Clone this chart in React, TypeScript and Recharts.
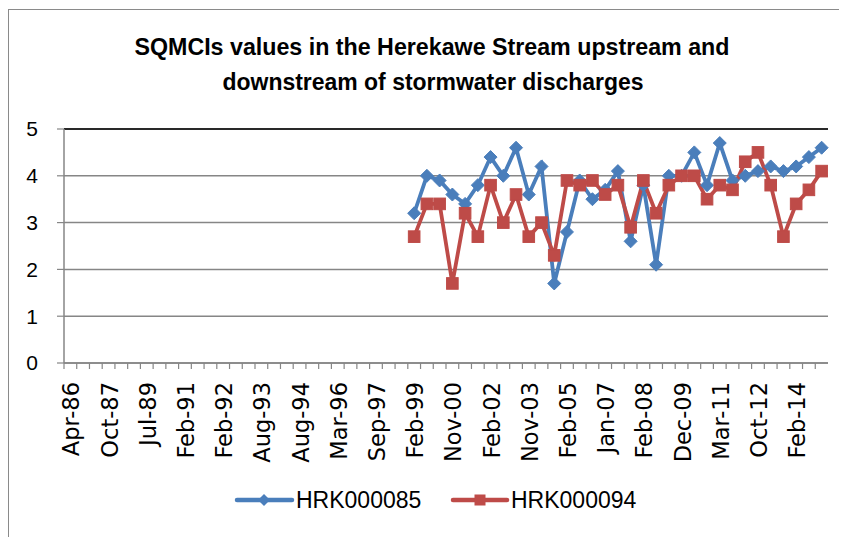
import React from 'react';
import { LineChart, Line, XAxis, YAxis, CartesianGrid, ReferenceLine } from 'recharts';

const categories = [
  'Apr-86', 'Nov-86', 'Apr-87', 'Oct-87', 'Mar-88', 'Nov-88', 'Jul-89', 'Feb-90', 'Aug-90', 'Feb-91',
  'Jun-91', 'Oct-91', 'Feb-92', 'Aug-92', 'Feb-93', 'Aug-93', 'Dec-93', 'Apr-94', 'Aug-94', 'Feb-95',
  'Sep-95', 'Mar-96', 'Nov-96', 'Apr-97', 'Sep-97', 'Mar-98', 'Sep-98', 'Feb-99', 'Nov-99', 'Apr-00',
  'Nov-00', 'Mar-01', 'Nov-01', 'Feb-02', 'Nov-02', 'Mar-03', 'Nov-03', 'Mar-04', 'Oct-04', 'Feb-05',
  'Nov-05', 'Mar-06', 'Jan-07', 'Apr-07', 'Nov-07', 'Feb-08', 'Oct-08', 'Mar-09', 'Dec-09', 'Apr-10',
  'Nov-10', 'Mar-11', 'Dec-11', 'Apr-12', 'Oct-12', 'Feb-13', 'Oct-13', 'Feb-14', 'Oct-14', 'Feb-15',
];

const hrk000085: (number | null)[] = [
  null, null, null, null, null, null, null, null, null, null,
  null, null, null, null, null, null, null, null, null, null,
  null, null, null, null, null, null, null, 3.2, 4.0, 3.9,
  3.6, 3.4, 3.8, 4.4, 4.0, 4.6, 3.6, 4.2, 1.7, 2.8,
  3.9, 3.5, 3.7, 4.1, 2.6, 3.8, 2.1, 4.0, 4.0, 4.5,
  3.8, 4.7, 3.9, 4.0, 4.1, 4.2, 4.1, 4.2, 4.4, 4.6,
];

const hrk000094: (number | null)[] = [
  null, null, null, null, null, null, null, null, null, null,
  null, null, null, null, null, null, null, null, null, null,
  null, null, null, null, null, null, null, 2.7, 3.4, 3.4,
  1.7, 3.2, 2.7, 3.8, 3.0, 3.6, 2.7, 3.0, 2.3, 3.9,
  3.8, 3.9, 3.6, 3.8, 2.9, 3.9, 3.2, 3.8, 4.0, 4.0,
  3.5, 3.8, 3.7, 4.3, 4.5, 3.8, 2.7, 3.4, 3.7, 4.1,
];

const yTicks = [0, 1, 2, 3, 4, 5];
const seriesNames = ['HRK000085', 'HRK000094'];
const titleLines = [
  'SQMCIs values in the Herekawe Stream upstream and',
  'downstream of stormwater discharges',
];

const data = categories.map((c, i) => ({ date: c, s85: hrk000085[i], s94: hrk000094[i] }));

const W = 839;
const H = 529;
const MARGIN = { top: 121, right: 19, bottom: 0, left: 0 };
const YW = 56;
const PLOT_W = W - MARGIN.left - MARGIN.right - YW;
const HALF = PLOT_W / categories.length / 2;

const BLUE = '#4A7EBB';
const RED = '#BE4B48';
const GRID = '#868686';

const XTick = (props: any) => {
  const { x, y, payload } = props;
  const idx = payload.index;
  return (
    <g>
      <line x1={x - HALF} x2={x - HALF} y1={y} y2={y + 6} stroke={GRID} strokeWidth={1.2} />
      {idx % 3 === 0 && (
        <text
          transform={`translate(${x + 1},${y + 19}) rotate(-90)`}
          textAnchor="end"
          dy="0.36em"
          fontFamily="DejaVu Sans"
          fontSize={22.5}
          fill="#000"
        >
          {payload.value}
        </text>
      )}
    </g>
  );
};

const diamond = (color: string) => (props: any) => {
  const { cx, cy, index } = props;
  if (cx == null || cy == null) return <g key={`d${index}`} />;
  const r = 6.5;
  return (
    <polygon
      key={`d${index}`}
      points={`${cx},${cy - r} ${cx + r},${cy} ${cx},${cy + r} ${cx - r},${cy}`}
      fill={color}
      stroke={color}
    />
  );
};

const square = (color: string) => (props: any) => {
  const { cx, cy, index } = props;
  if (cx == null || cy == null) return <g key={`s${index}`} />;
  const r = 5.8;
  return <rect key={`s${index}`} x={cx - r} y={cy - r} width={r * 2} height={r * 2} fill={color} stroke={color} />;
};

export default function App() {
  return (
    <div style={{ position: 'relative', width: W, height: H }}>
      <div
        style={{
          position: 'absolute',
          left: 0,
          top: 1,
          width: W,
          height: H - 1,
          borderLeft: '1px solid #8a8a8a',
          borderTop: '1px solid #8a8a8a',
          boxSizing: 'border-box',
        }}
      />
      <LineChart width={W} height={H} data={data} margin={MARGIN}>
        <CartesianGrid yAxisId="left" vertical={false} stroke={GRID} strokeWidth={1.5} />
        <XAxis
          dataKey="date"
          interval={0}
          height={H - MARGIN.top - MARGIN.bottom - 234}
          padding={{ left: HALF, right: HALF }}
          tickLine={false}
          tickSize={0}
          tickMargin={0}
          axisLine={{ stroke: GRID, strokeWidth: 1.5 }}
          tick={<XTick />}
        />
        <YAxis
          yAxisId="left"
          domain={[0, 5]}
          ticks={yTicks}
          width={YW}
          tickSize={7}
          tickMargin={19}
          axisLine={{ stroke: GRID, strokeWidth: 1.5 }}
          tickLine={{ stroke: GRID, strokeWidth: 1.2 }}
          tick={{ fill: '#000', fontSize: 21, fontFamily: 'Liberation Sans' }}
        />
        <YAxis
          yAxisId="right"
          orientation="right"
          domain={[0, 5]}
          width={0}
          tick={false}
          tickLine={false}
          axisLine={{ stroke: '#000', strokeWidth: 1.5 }}
        />
        <ReferenceLine yAxisId="left" y={5} stroke="#000" strokeWidth={1.5} />
        <Line
          yAxisId="left"
          dataKey="s85"
          name={seriesNames[0]}
          stroke={BLUE}
          strokeWidth={3.8}
          dot={diamond(BLUE)}
          activeDot={false}
          connectNulls
          isAnimationActive={false}
        />
        <Line
          yAxisId="left"
          dataKey="s94"
          name={seriesNames[1]}
          stroke={RED}
          strokeWidth={3.8}
          dot={square(RED)}
          activeDot={false}
          connectNulls
          isAnimationActive={false}
        />
      </LineChart>
      <svg
        width={W}
        height={H}
        style={{ position: 'absolute', left: 0, top: 0, pointerEvents: 'none' }}
      >
        <text x={424} y={47} textAnchor="middle" fontFamily="Liberation Sans" fontWeight="bold" fontSize={23}
          textLength={595} lengthAdjust="spacingAndGlyphs" fill="#000">
          {titleLines[0]}
        </text>
        <text x={425} y={82} textAnchor="middle" fontFamily="Liberation Sans" fontWeight="bold" fontSize={23}
          textLength={421} lengthAdjust="spacingAndGlyphs" fill="#000">
          {titleLines[1]}
        </text>
        <g>
          <line x1={229} x2={284} y1={492} y2={492} stroke={BLUE} strokeWidth={4.5} strokeLinecap="round" />
          <polygon points="256,486 262,492 256,498 250,492" fill={BLUE} />
          <text x={288} y={500} fontFamily="Liberation Sans" fontSize={23} fill="#000">{seriesNames[0]}</text>
          <line x1={445} x2={499} y1={492} y2={492} stroke={RED} strokeWidth={4.5} strokeLinecap="round" />
          <rect x={466.5} y={486.5} width={11} height={11} fill={RED} />
          <text x={503} y={500} fontFamily="Liberation Sans" fontSize={23} fill="#000">{seriesNames[1]}</text>
        </g>
      </svg>
    </div>
  );
}
